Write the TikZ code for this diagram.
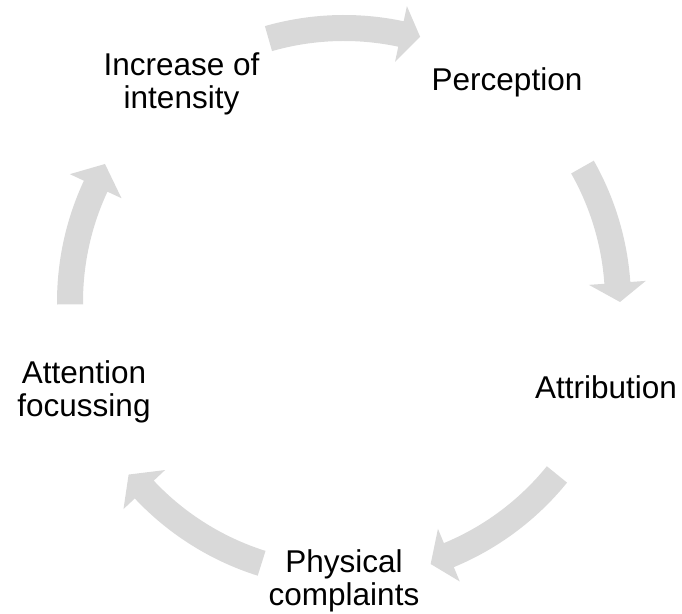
\documentclass[tikz,border=0pt]{standalone}
\usepackage{fontspec}
\setmainfont{Liberation Sans}
\definecolor{arrowgray}{HTML}{D9D9D9}
\newcommand\cycarrow[3]{%
  \fill[arrowfill] (#1:287) arc[start angle=#1,end angle=#2,radius=287]
    -- (#2:302.5) -- (#3:276) -- (#2:245.5) -- (#2:261)
    arc[start angle=#2,end angle=#1,radius=261] -- cycle;}
\begin{document}
\begin{tikzpicture}[x=1pt,y=1pt,
  arrowfill/.style={fill=arrowgray,draw=none},
  label/.style={anchor=north,inner sep=0pt,align=center,text=black,
    font=\fontsize{31.5}{33}\selectfont}]
\useasboundingbox (0,0) rectangle (682,613);
\begin{scope}[shift={(344,311)}]
  \cycarrow{106}{78}{74}
  \cycarrow{29.5}{4}{0}
  \cycarrow{-39}{-67.5}{-71.7}
  \cycarrow{-107.5}{-136.8}{-141.3}
  \cycarrow{180.5}{155}{150}
\end{scope}
\node[label] (inc) at (181.5,560.7) {Increase of\\intensity};
\node[label] (per) at (507,545.7) {Perception};
\node[label] (att) at (606,237.7) {Attribution};
\node[label] (phy) at (344,63.7) {Physical\\complaints};
\node[label] (foc) at (84,252.7) {Attention\\focussing};
\end{tikzpicture}
\end{document}
